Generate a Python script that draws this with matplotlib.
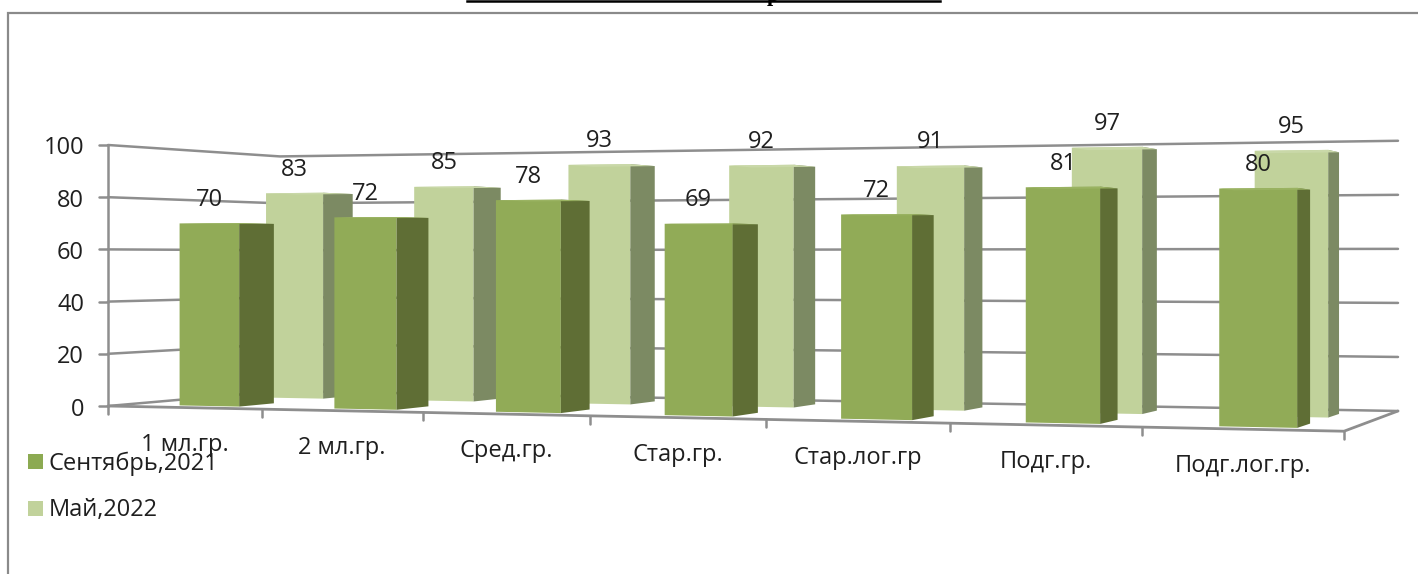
import matplotlib
matplotlib.use("Agg")
import matplotlib.pyplot as plt
from matplotlib.patches import Polygon, Rectangle
import numpy as np

# Данные диаграммы
categories = ["1 мл.гр.", "2 мл.гр.", "Сред.гр.", "Стар.гр.", "Стар.лог.гр", "Подг.гр.", "Подг.лог.гр."]
sep_2021 = [70, 72, 78, 69, 72, 81, 80]
may_2022 = [83, 85, 93, 92, 91, 97, 95]
y_ticks = [0, 20, 40, 60, 80, 100]
series_names = ["Сентябрь,2021", "Май,2022"]

plt.rcParams["font.family"] = ["Open Sans", "DejaVu Sans"]
W, H = 1418, 574
TEXT = "#1f1f1f"
GRID = "#8e8e8e"

fig = plt.figure(figsize=(W / 100, H / 100), dpi=100)
ax = fig.add_axes([0, 0, 1, 1])
ax.set_xlim(0, W)
ax.set_ylim(H, 0)
ax.axis("off")

# Проекция: углы пола псевдо-3D диаграммы (u вдоль категорий, d в глубину)
src = [(0, 0), (1, 0), (1, 1), (0, 1)]
dst = [(108, 406), (1344, 431.22), (1398, 411), (280, 391)]
A, b = [], []
for (u, d), (x, y) in zip(src, dst):
    A.append([u, d, 1, 0, 0, 0, -u * x, -d * x])
    A.append([0, 0, 0, u, d, 1, -u * y, -d * y])
    b += [x, y]
h = np.linalg.solve(np.array(A, float), np.array(b, float))
FULL_HEIGHT = 261


def proj(c, d, v=0):
    """Категория c (0..n), глубина d (0..1), значение v -> пиксели."""
    u = c / len(categories)
    w = h[6] * u + h[7] * d + 1
    x = (h[0] * u + h[1] * d + h[2]) / w
    y = (h[3] * u + h[4] * d + h[5]) / w
    return x, y - v / 100 * FULL_HEIGHT / w


def grid_line(points, lw=1.8, z=1):
    xs, ys = zip(*points)
    ax.plot(xs, ys, color=GRID, lw=lw, zorder=z, solid_capstyle="round")


n = len(categories)

# Стенки: линии сетки
for v in y_ticks:
    grid_line([proj(0, 0, v), proj(0, 1, v), proj(n, 1, v)])
    x0, y0 = proj(0, 0, v)
    grid_line([(x0 - 9, y0), (x0, y0)])
    ax.text(x0 - 24, y0 + 3.5, str(v), ha="right", va="center",
            fontsize=17, color=TEXT, zorder=6)
grid_line([proj(0, 0, 0), proj(0, 0, 100)])

# Пол
grid_line([proj(0, 0), proj(n, 0), proj(n, 1)], lw=2.0, z=2)
for i in range(n + 1):
    x0, y0 = proj(i, 0)
    grid_line([(x0, y0), (x0, y0 + 8)], z=2)


def draw_bar(i, value, d0, d1, face, side, top, z):
    """Один столбец: передняя, верхняя и боковая грани."""
    a, b_ = i + BAR_START, i + BAR_END
    ax.add_patch(Polygon([proj(a, d0), proj(b_, d0), proj(b_, d0, value), proj(a, d0, value)],
                         closed=True, fc=face, ec="none", zorder=z))
    ax.add_patch(Polygon([proj(b_, d0), proj(b_, d1), proj(b_, d1, value), proj(b_, d0, value)],
                         closed=True, fc=side, ec="none", zorder=z))
    ax.add_patch(Polygon([proj(a, d0, value), proj(b_, d0, value), proj(b_, d1, value), proj(a, d1, value)],
                         closed=True, fc=top, ec="none", zorder=z))
    xa, _ = proj(a, d0)
    xb, yt = proj(b_, d0, value)
    ax.text((xa + xb) / 2, yt - 23, str(value), ha="center", va="center",
            fontsize=17, color=TEXT, zorder=7)


BAR_START, BAR_END = 0.35, 0.74
for i, val in enumerate(may_2022):
    draw_bar(i, val, 0.60, 0.79, "#c1d29b", "#7c8a63", "#c9d8a8", 3)
for i, val in enumerate(sep_2021):
    draw_bar(i, val, 0.10, 0.30, "#91ab57", "#5f6e35", "#9ab362", 4)

# Подписи категорий
for i, name in enumerate(categories):
    x0, y0 = proj(i, 0)
    x1, y1 = proj(i + 1, 0)
    ax.text((x0 + x1) / 2, (y0 + y1) / 2 + 37, name, ha="center", va="center",
            fontsize=17, color=TEXT, zorder=6)

# Легенда
for name, col, yc in zip(series_names, ["#8caa52", "#c1d29b"], [461.5, 508]):
    ax.add_patch(Rectangle((27.5, yc - 7.5), 15.5, 15, fc=col, ec="none", zorder=6))
    ax.text(49, yc + 2, name, ha="left", va="center", fontsize=17, color=TEXT, zorder=7)

# Рамка области диаграммы
ax.plot([8, 8, W], [H, 13, 13], color="#8a8a8a", lw=1.6, zorder=0, solid_joinstyle="miter")

# Обрезанный сверху заголовок
ax.plot([467, 940], [1.2, 1.2], color="black", lw=1.8, zorder=8)
ax.text(773, 1.5, "р", family="Liberation Serif", fontweight="bold", fontsize=16,
        ha="center", va="baseline", color="black", zorder=8)

fig.savefig("out.png", dpi=100)
